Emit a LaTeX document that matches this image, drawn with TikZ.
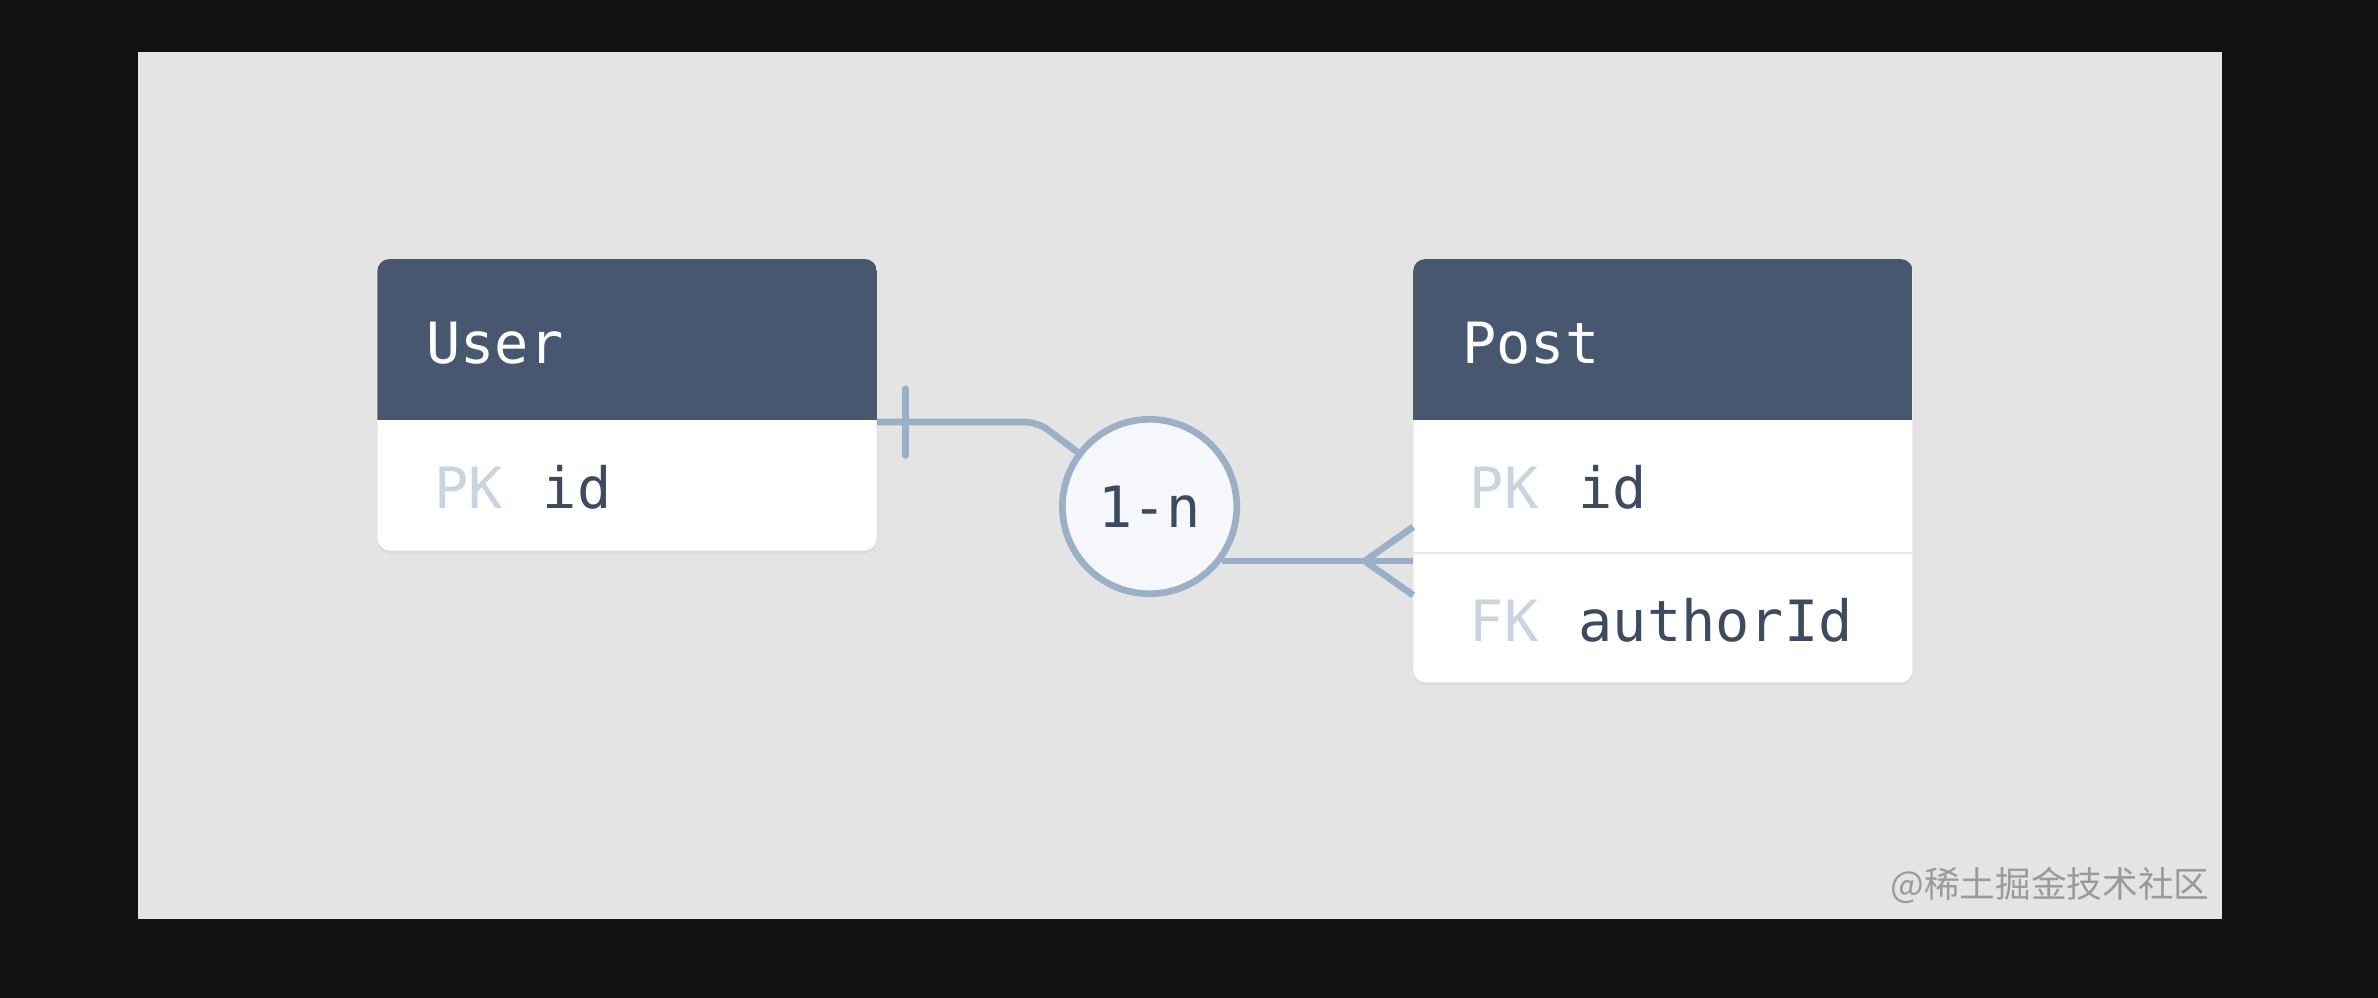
\documentclass[tikz,border=0pt]{standalone}
\usepackage{fontspec}
\setmonofont{DejaVu Sans Mono}
\newfontfamily\cjk{Noto Sans CJK SC}
\usetikzlibrary{positioning,shadows}

\definecolor{outerbg}{HTML}{111111}
\definecolor{panelbg}{HTML}{E4E4E4}
\definecolor{hdrc}{HTML}{485770}
\definecolor{linkc}{HTML}{9BAFC6}
\definecolor{keyc}{HTML}{C9D4E0}
\definecolor{textc}{HTML}{3D4A5F}
\definecolor{relfill}{HTML}{F5F7FA}
\definecolor{sepc}{HTML}{E3E9F1}
\definecolor{markc}{HTML}{9A9A9A}

\tikzset{
  tbl/.style={rectangle, rounded corners=8pt, fill=white, minimum width=329pt, inner sep=0pt,
    drop shadow={shadow xshift=0pt, shadow yshift=-2pt, opacity=0.15, fill=linkc}},
  hdr/.style={fill=hdrc},
  title/.style={anchor=base west, inner sep=0pt, text=white, font=\ttfamily\fontsize{37.5}{44}\selectfont},
  field/.style={anchor=base west, inner sep=0pt, text=textc, font=\ttfamily\fontsize{37.5}{44}\selectfont},
  link/.style={draw=linkc, line width=4.4pt},
  rel/.style={circle, draw=linkc, line width=4.4pt, fill=relfill, minimum size=115pt, inner sep=0pt,
    text=textc, font=\ttfamily\fontsize{37.5}{44}\selectfont}
}
\newcommand{\keycol}[1]{\textcolor{keyc}{#1}\hspace{4pt}}

\begin{document}
\begin{tikzpicture}[x=1pt,y=-1pt]
% background
\fill[outerbg] (0,0) rectangle (1568,658);
\fill[panelbg] (91,34) rectangle (1465,606);
\useasboundingbox (0,0) rectangle (1568,658);

% User table
\node[tbl, minimum height=192pt] (user) at (413.5,267) {};
\begin{scope}
\clip[rounded corners=8pt] (user.south west) rectangle (user.north east);
\fill[hdr] (user.north west) rectangle ([yshift=-106pt]user.north east);
\end{scope}
\node[title] (usertitle) at (281,240) {User};
\node[field] (userpk) at (286,335) {\keycol{PK} id};

% Post table
\node[tbl, minimum height=279pt] (post) at (1096.5,310.5) {};
\begin{scope}
\clip[rounded corners=8pt] (post.south west) rectangle (post.north east);
\fill[hdr] (post.north west) rectangle ([yshift=-106pt]post.north east);
\end{scope}
\draw[sepc, line width=1.5pt] ([yshift=-194pt]post.north west) -- ([yshift=-194pt]post.north east);
\node[title] (posttitle) at (964,240) {Post};
\node[field] (postpk) at (969,335) {\keycol{PK} id};
\node[field] (postfk) at (969,423) {\keycol{FK} authorId};

% relation 1-n
\node[rel] (rel) at (758,334) {1-n};
\coordinate (userlink) at ([yshift=-107.5pt]user.north east);
\coordinate (bend) at ([xshift=106pt]userlink);
\draw[link, rounded corners=8pt] (userlink) -- (bend) -- (rel);
\draw[link, line cap=round] ([xshift=19pt]userlink) ++(0,-22) -- ++(0,44);
\draw[link] (rel.-37) -- (rel.-37 -| post.west);
\coordinate (crow) at ([xshift=-32pt]rel.-37 -| post.west);
\draw[link] (crow) -- ++(32,-22.5) (crow) -- ++(32,22.5);

% watermark
\node[anchor=base east, inner sep=0pt, text=markc, font=\cjk\fontsize{23.5}{28}\selectfont] (mark) at (1457,592) {@稀土掘金技术社区};
\end{tikzpicture}
\end{document}
